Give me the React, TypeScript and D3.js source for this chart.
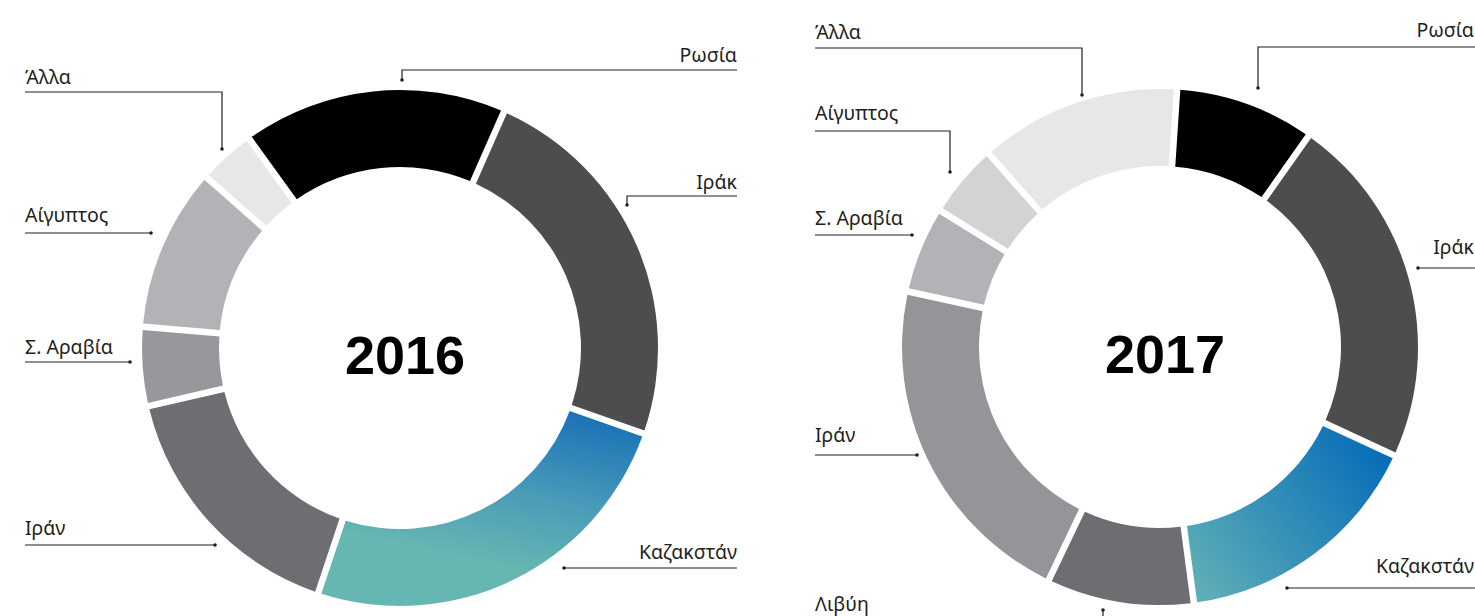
import React from "react";
import * as d3 from "d3";

const categories2016 = ["Ρωσία", "Ιράκ", "Καζακστάν", "Ιράν", "Σ. Αραβία", "Αίγυπτος", "Άλλα"];
const values2016 = [16.6, 24.0, 25.0, 16.3, 4.7, 10.1, 3.3];
const categories2017 = ["Ρωσία", "Ιράκ", "Καζακστάν", "Λιβύη", "Ιράν", "Σ. Αραβία", "Αίγυπτος", "Άλλα"];
const values2017 = [8.6, 22.4, 16.1, 9.1, 21.6, 5.2, 4.4, 12.6];
const years = ["2016", "2017"];

const W = 1475;
const H = 616;
const R_OUT = 258;
const R_IN = 181;

type LabelLayout = { name: string; tx: number; ty: number; anchor: "start" | "end"; pts: [number, number][] };

const colors2016: Record<string, string> = {
  "Ρωσία": "#000000",
  "Ιράκ": "#4d4d4f",
  "Καζακστάν": "url(#grad2016)",
  "Ιράν": "#6d6e71",
  "Σ. Αραβία": "#97989b",
  "Αίγυπτος": "#b1b3b6",
  "Άλλα": "#e6e7e8",
};
const colors2017: Record<string, string> = {
  "Ρωσία": "#000000",
  "Ιράκ": "#4d4d4f",
  "Καζακστάν": "url(#grad2017)",
  "Λιβύη": "#6d6e71",
  "Ιράν": "#949598",
  "Σ. Αραβία": "#b1b3b6",
  "Αίγυπτος": "#d1d3d4",
  "Άλλα": "#e6e7e8",
};

const labels2016: LabelLayout[] = [
  { name: "Άλλα", tx: 25, ty: 84, anchor: "start", pts: [[25, 92], [222, 92], [222, 149]] },
  { name: "Ρωσία", tx: 737, ty: 62, anchor: "end", pts: [[737, 70], [402, 70], [402, 80]] },
  { name: "Ιράκ", tx: 737, ty: 189, anchor: "end", pts: [[737, 196], [627, 196], [627, 205]] },
  { name: "Αίγυπτος", tx: 25, ty: 222, anchor: "start", pts: [[25, 233], [151, 233]] },
  { name: "Σ. Αραβία", tx: 25, ty: 354, anchor: "start", pts: [[25, 362], [130, 362]] },
  { name: "Ιράν", tx: 25, ty: 535, anchor: "start", pts: [[25, 545], [215, 545]] },
  { name: "Καζακστάν", tx: 737, ty: 559, anchor: "end", pts: [[737, 568], [564, 568]] },
];
const labels2017: LabelLayout[] = [
  { name: "Άλλα", tx: 815, ty: 39, anchor: "start", pts: [[815, 48], [1082, 48], [1082, 95]] },
  { name: "Ρωσία", tx: 1474, ty: 37, anchor: "end", pts: [[1480, 47], [1258, 47], [1258, 88]] },
  { name: "Αίγυπτος", tx: 815, ty: 120, anchor: "start", pts: [[815, 131], [950, 131], [950, 172]] },
  { name: "Σ. Αραβία", tx: 815, ty: 225, anchor: "start", pts: [[815, 235], [912, 235]] },
  { name: "Ιράκ", tx: 1474, ty: 254, anchor: "end", pts: [[1480, 268], [1418, 268]] },
  { name: "Ιράν", tx: 815, ty: 442, anchor: "start", pts: [[815, 455], [917, 455]] },
  { name: "Καζακστάν", tx: 1474, ty: 573, anchor: "end", pts: [[1480, 588], [1287, 588]] },
  { name: "Λιβύη", tx: 815, ty: 611, anchor: "start", pts: [[1103, 610], [1103, 630]] },
];

const charts = [
  { year: years[0], cx: 400, cy: 348, start: -35.8, cats: categories2016, vals: values2016, colors: colors2016, labels: labels2016 },
  { year: years[1], cx: 1160, cy: 347, start: 3.8, cats: categories2017, vals: values2017, colors: colors2017, labels: labels2017 },
];

const FONT = "'Liberation Sans', Arial, Helvetica, sans-serif";
const LABEL_FONT = "'Noto Sans', 'Liberation Sans', Arial, sans-serif";

export default function App() {
  const padR = Math.sqrt(R_IN * R_IN + R_OUT * R_OUT);
  const arc = d3
    .arc<d3.PieArcDatum<number>>()
    .innerRadius(R_IN)
    .outerRadius(R_OUT)
    .padRadius(padR);
  const line = d3.line();

  return (
    <svg
      width={W}
      height={H}
      style={{ position: "absolute", left: 0, top: 0, display: "block", overflow: "hidden", background: "#fff" }}
      fontFamily={FONT}
    >
      <defs>
        <linearGradient id="grad2016" gradientUnits="userSpaceOnUse" x1={200} y1={70} x2={165} y2={232}>
          <stop offset="0" stopColor="#1b72b7" />
          <stop offset="0.55" stopColor="#4a9cb8" />
          <stop offset="1" stopColor="#66b6b2" />
        </linearGradient>
        <linearGradient id="grad2017" gradientUnits="userSpaceOnUse" x1={228} y1={105} x2={28} y2={255}>
          <stop offset="0" stopColor="#066cb8" />
          <stop offset="1" stopColor="#63b2b6" />
        </linearGradient>
      </defs>
      {charts.map((c) => {
        const s = (c.start * Math.PI) / 180;
        const pie = d3
          .pie<number>()
          .sort(null)
          .value((d) => d)
          .startAngle(s)
          .endAngle(s + 2 * Math.PI)
          .padAngle(6.5 / padR);
        const arcs = pie(c.vals);
        return (
          <g key={c.year}>
            <g transform={`translate(${c.cx},${c.cy})`}>
              {arcs.map((a, i) => (
                <path key={i} d={arc(a) || ""} fill={c.colors[c.cats[i]]} />
              ))}
              <text x={5} y={26} textAnchor="middle" fontSize={54} fontWeight="bold" fill="#000">
                {c.year}
              </text>
            </g>
            {c.labels.map((l) => {
              const last = l.pts[l.pts.length - 1];
              const dot = last[1] > H ? l.pts[0] : last;
              return (
                <g key={l.name}>
                  <text x={l.tx} y={l.ty} textAnchor={l.anchor} fontSize={19.5} fill="#231f20" fontFamily={LABEL_FONT}>
                    {l.name}
                  </text>
                  <path d={line(l.pts) || ""} fill="none" stroke="#231f20" strokeWidth={1.2} />
                  <circle cx={dot[0]} cy={dot[1]} r={1.8} fill="#231f20" />
                </g>
              );
            })}
          </g>
        );
      })}
    </svg>
  );
}
